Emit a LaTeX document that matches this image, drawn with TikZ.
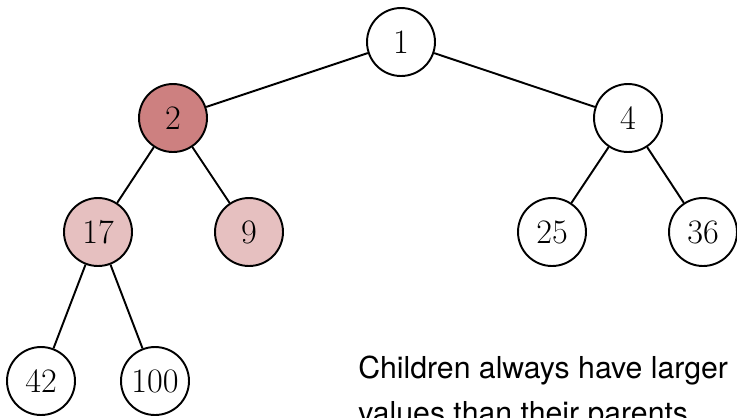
\documentclass[tikz,border=0pt]{standalone}
\usepackage{fontspec}
\newfontfamily\notefont{TeX Gyre Heros}
\definecolor{rootpath}{RGB}{205,128,128}
\definecolor{subtree}{RGB}{230,192,192}
\begin{document}
\begin{tikzpicture}[x=0.02cm,y=-0.02cm,
  heapnode/.style={circle,draw=black,line width=1.1pt,minimum size=1.36cm,inner sep=0pt,
    fill=white,font=\fontsize{19.5}{24}\selectfont},
  hot/.style={fill=rootpath},
  warm/.style={fill=subtree},
  link/.style={line width=1.1pt}]
\useasboundingbox (0,0) rectangle (737,417);
\node[heapnode] (n1) at (401,42) {1};
\node[heapnode,hot] (n2) at (173,118) {2};
\node[heapnode] (n4) at (628,118) {4};
\node[heapnode,warm] (n17) at (98,232) {17};
\node[heapnode,warm] (n9) at (249,232) {9};
\node[heapnode] (n25) at (552,232) {25};
\node[heapnode] (n36) at (703,232) {36};
\node[heapnode] (n42) at (41,381) {42};
\node[heapnode] (n100) at (155,381) {100};
\draw[link] (n1) -- (n2);
\draw[link] (n1) -- (n4);
\draw[link] (n2) -- (n17);
\draw[link] (n2) -- (n9);
\draw[link] (n4) -- (n25);
\draw[link] (n4) -- (n36);
\draw[link] (n17) -- (n42);
\draw[link] (n17) -- (n100);
% the note's base anchor sits on its last line
\node[anchor=base west,align=left,inner sep=0pt,font=\notefont\fontsize{17.2}{25.5}\selectfont]
  (note) at (358,423) {Children always have larger\\values than their parents};
\end{tikzpicture}
\end{document}
